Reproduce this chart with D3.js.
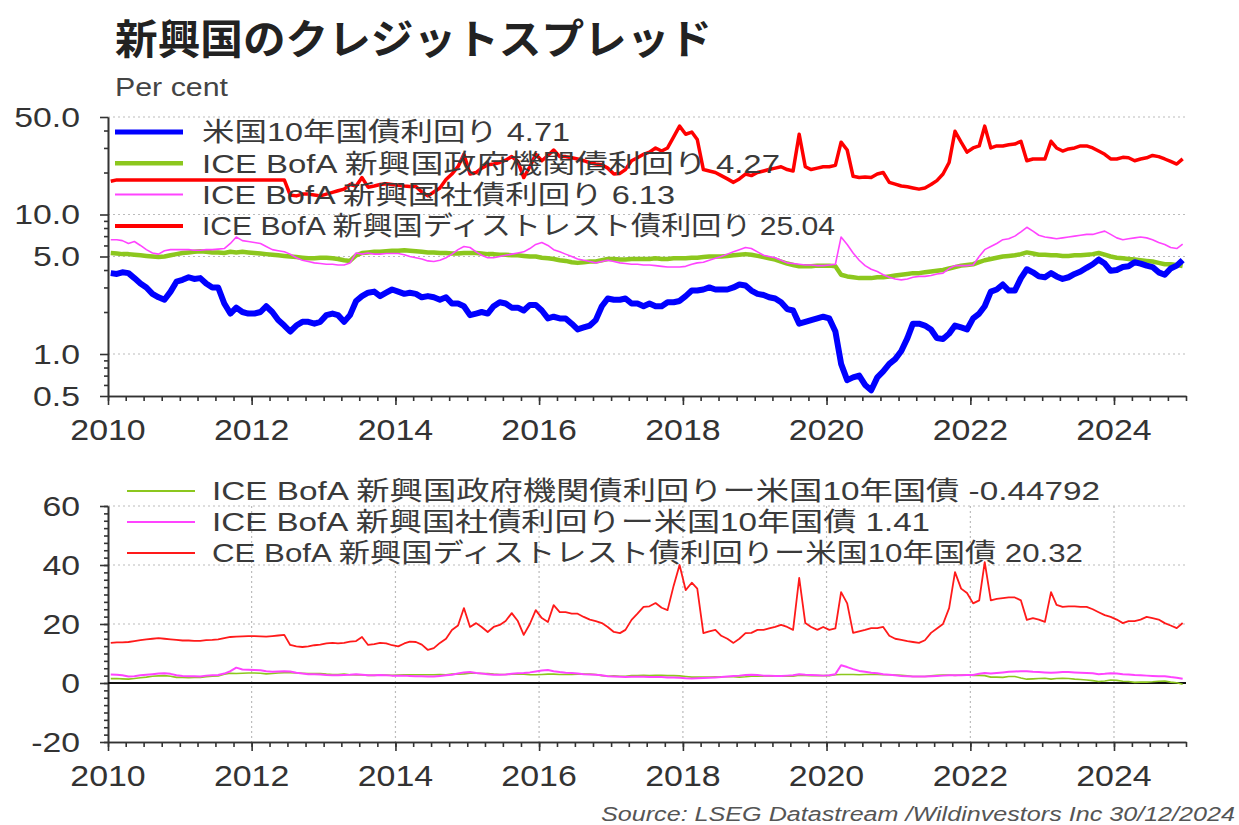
<!DOCTYPE html>
<html>
<head>
<meta charset="utf-8">
<script src="https://cdn.jsdelivr.net/npm/d3@7"></script>
<style>
  body { margin: 0; background: #fff; }
  svg { display: block; }
</style>
</head>
<body>
<svg id="chart" width="1239" height="825"></svg>
<script>
// Monthly observations, January 2010 – December 2024 (12 values per row = one year)

// US 10-year Treasury yield (%)
const ust10y = [
  3.80, 3.75, 3.85, 3.80, 3.50, 3.20, 3.00, 2.70, 2.55, 2.45, 2.80, 3.30,
  3.40, 3.55, 3.45, 3.50, 3.20, 3.00, 3.00, 2.30, 1.95, 2.15, 2.00, 1.95,
  1.95, 2.00, 2.20, 2.00, 1.75, 1.60, 1.45, 1.60, 1.70, 1.70, 1.65, 1.70,
  1.90, 1.95, 1.90, 1.70, 1.90, 2.40, 2.60, 2.75, 2.80, 2.60, 2.75, 2.90,
  2.80, 2.70, 2.75, 2.70, 2.55, 2.60, 2.55, 2.45, 2.55, 2.30, 2.30, 2.20,
  1.90, 1.95, 2.00, 1.95, 2.20, 2.35, 2.30, 2.15, 2.15, 2.05, 2.25, 2.25,
  2.05, 1.80, 1.85, 1.80, 1.80, 1.65, 1.50, 1.55, 1.60, 1.75, 2.20, 2.50,
  2.45, 2.45, 2.50, 2.30, 2.30, 2.20, 2.30, 2.20, 2.20, 2.35, 2.35, 2.40,
  2.60, 2.85, 2.85, 2.90, 3.00, 2.90, 2.90, 2.90, 3.00, 3.15, 3.10, 2.85,
  2.70, 2.65, 2.55, 2.50, 2.35, 2.10, 2.05, 1.65, 1.70, 1.75, 1.80, 1.85,
  1.80, 1.45, 0.85, 0.65, 0.68, 0.70, 0.60, 0.55, 0.68, 0.75, 0.85, 0.92,
  1.05, 1.30, 1.65, 1.65, 1.60, 1.50, 1.30, 1.28, 1.40, 1.60, 1.55, 1.50,
  1.80, 1.95, 2.20, 2.80, 2.90, 3.15, 2.85, 2.85, 3.50, 4.05, 3.85, 3.60,
  3.55, 3.80, 3.60, 3.45, 3.55, 3.75, 3.90, 4.15, 4.40, 4.75, 4.45, 3.95,
  4.00, 4.20, 4.25, 4.55, 4.45, 4.30, 4.20, 3.85, 3.70, 4.10, 4.30, 4.71
];

// ICE BofA EM government-agency bond yield (%)
const emGovYield = [
  5.30, 5.25, 5.20, 5.20, 5.15, 5.10, 5.05, 5.00, 4.95, 5.00, 5.10, 5.20,
  5.30, 5.35, 5.40, 5.45, 5.40, 5.35, 5.35, 5.30, 5.40, 5.35, 5.40, 5.35,
  5.30, 5.25, 5.20, 5.15, 5.10, 5.05, 5.00, 4.95, 4.90, 4.85, 4.85, 4.90,
  4.90, 4.85, 4.80, 4.70, 4.65, 5.10, 5.30, 5.35, 5.40, 5.40, 5.45, 5.50,
  5.50, 5.55, 5.50, 5.45, 5.40, 5.35, 5.35, 5.30, 5.30, 5.25, 5.25, 5.30,
  5.30, 5.30, 5.25, 5.20, 5.20, 5.15, 5.15, 5.10, 5.10, 5.05, 5.00, 5.00,
  4.90, 4.85, 4.80, 4.70, 4.65, 4.55, 4.50, 4.55, 4.60, 4.60, 4.70, 4.80,
  4.80, 4.75, 4.75, 4.80, 4.80, 4.80, 4.80, 4.85, 4.80, 4.80, 4.85, 4.85,
  4.85, 4.90, 4.90, 4.95, 5.00, 5.00, 5.00, 5.05, 5.10, 5.15, 5.20, 5.15,
  5.05, 4.95, 4.85, 4.75, 4.60, 4.45, 4.35, 4.25, 4.25, 4.25, 4.30, 4.30,
  4.30, 4.25, 3.70, 3.60, 3.55, 3.50, 3.50, 3.50, 3.55, 3.55, 3.60, 3.65,
  3.70, 3.75, 3.80, 3.80, 3.85, 3.90, 3.95, 4.00, 4.10, 4.20, 4.30, 4.35,
  4.40, 4.55, 4.70, 4.80, 4.90, 5.00, 5.05, 5.10, 5.20, 5.35, 5.25, 5.15,
  5.15, 5.10, 5.10, 5.05, 5.05, 5.10, 5.10, 5.15, 5.20, 5.30, 5.15, 5.00,
  4.90, 4.85, 4.80, 4.75, 4.70, 4.65, 4.60, 4.50, 4.40, 4.40, 4.35, 4.27
];

// ICE BofA EM corporate bond yield (%)
const emCorpYield = [
  6.60, 6.60, 6.50, 6.20, 6.40, 6.00, 5.60, 5.30, 5.20, 5.50, 5.60, 5.60,
  5.60, 5.60, 5.55, 5.55, 5.60, 5.60, 5.65, 5.70, 6.20, 6.90, 6.50, 6.40,
  6.30, 6.20, 5.90, 5.60, 5.50, 5.40, 5.20, 4.90, 4.70, 4.60, 4.50, 4.45,
  4.40, 4.40, 4.35, 4.35, 4.50, 5.30, 5.20, 5.30, 5.20, 5.20, 5.25, 5.25,
  5.25, 5.15, 5.00, 4.90, 4.80, 4.65, 4.60, 4.70, 4.90, 5.20, 5.60, 5.90,
  5.80, 5.40, 5.10, 4.90, 4.90, 5.00, 5.10, 5.20, 5.30, 5.40, 5.70, 6.10,
  6.30, 6.00, 5.60, 5.40, 5.20, 5.00, 4.80, 4.70, 4.60, 4.50, 4.60, 4.70,
  4.60, 4.50, 4.45, 4.40, 4.40, 4.35, 4.35, 4.30, 4.25, 4.20, 4.20, 4.20,
  4.25, 4.40, 4.50, 4.55, 4.70, 4.85, 5.00, 5.20, 5.40, 5.60, 5.80, 5.70,
  5.40, 5.10, 5.00, 4.90, 4.70, 4.50, 4.45, 4.40, 4.35, 4.35, 4.30, 4.30,
  4.35, 4.40, 6.90, 6.10, 5.30, 4.70, 4.30, 4.05, 3.90, 3.70, 3.55, 3.45,
  3.40, 3.45, 3.55, 3.60, 3.60, 3.65, 3.75, 3.80, 4.10, 4.30, 4.30, 4.30,
  4.35, 5.00, 5.60, 5.90, 6.20, 6.60, 6.70, 7.00, 7.50, 8.10, 7.60, 7.10,
  6.90, 6.80, 6.70, 6.80, 6.90, 7.00, 7.10, 7.20, 7.20, 7.40, 7.60, 7.20,
  6.80, 6.60, 6.70, 6.80, 6.90, 6.80, 6.60, 6.30, 6.10, 5.80, 5.70, 6.13
];

// ICE BofA EM distressed bond yield (%)
const emDistressedYield = [
  17.3, 17.7, 17.7, 17.7, 17.7, 17.7, 17.7, 17.7, 17.7, 17.7, 17.7, 17.7,
  17.7, 17.7, 17.7, 17.7, 17.7, 17.7, 17.7, 17.7, 17.7, 17.7, 17.7, 17.7,
  17.7, 17.7, 17.7, 17.7, 17.7, 17.7, 13.8, 13.6, 14.0, 14.0, 13.8, 13.6,
  14.0, 14.4, 14.8, 15.2, 16.4, 16.0, 18.4, 15.7, 16.0, 16.4, 16.6, 16.4,
  16.2, 16.0, 15.9, 15.9, 14.5, 13.6, 14.5, 15.5, 17.8, 19.5, 22.0, 27.0,
  19.5, 20.0, 21.5, 22.7, 23.0, 23.6, 24.5, 26.0, 24.0, 18.4, 22.0, 27.0,
  24.3, 26.5, 29.0, 26.0, 26.0, 25.5, 25.0, 24.3, 23.5, 23.0, 22.7, 21.5,
  19.5, 19.7, 21.0, 24.3, 25.5, 27.0, 28.0, 30.0, 28.5, 30.0, 36.0, 43.0,
  37.6, 39.0, 34.5, 21.0, 20.5, 20.0, 19.0, 18.0, 17.0, 18.0, 19.5, 19.0,
  20.0, 20.5, 21.0, 21.5, 22.0, 21.0, 20.5, 37.6, 22.0, 21.0, 21.5, 22.0,
  22.0, 22.5, 33.0, 29.0, 18.8, 18.4, 18.6, 18.4, 19.5, 20.0, 17.0, 16.5,
  16.0, 15.8, 15.5, 15.2, 15.5, 16.4, 17.5, 19.5, 23.6, 39.5, 33.0, 28.0,
  30.0, 31.0, 43.0, 30.0, 31.0, 31.0, 31.6, 32.0, 33.5, 24.3, 25.0, 25.0,
  25.0, 33.5, 30.0, 28.5, 29.5, 30.0, 31.0, 31.0, 30.0, 28.5, 27.0, 25.0,
  25.0, 25.7, 25.5, 24.3, 25.0, 25.5, 26.5, 26.0, 25.0, 24.0, 23.0, 25.04
];

// Spreads over the US 10-year Treasury (percentage points)
const govSpread = [
  1.5, 1.5, 1.4, 1.3, 1.5, 1.8, 2.0, 2.3, 2.4, 2.5, 2.3, 1.9,
  1.9, 1.8, 1.9, 1.9, 2.1, 2.3, 2.4, 3.0, 3.3, 3.2, 3.3, 3.4,
  3.4, 3.3, 3.1, 3.2, 3.4, 3.5, 3.5, 3.4, 3.3, 3.2, 3.2, 3.2,
  3.0, 2.9, 2.9, 3.0, 2.8, 2.7, 2.7, 2.6, 2.6, 2.7, 2.7, 2.6,
  2.7, 2.8, 2.8, 2.8, 2.8, 2.8, 2.8, 2.9, 2.8, 3.0, 3.0, 3.1,
  3.3, 3.3, 3.2, 3.2, 3.0, 2.9, 2.9, 3.0, 3.0, 3.0, 2.8, 2.8,
  2.9, 3.0, 3.0, 2.9, 2.9, 2.9, 3.0, 3.0, 3.0, 2.9, 2.5, 2.3,
  2.4, 2.3, 2.3, 2.5, 2.5, 2.6, 2.5, 2.6, 2.6, 2.5, 2.5, 2.4,
  2.2, 2.0, 2.0, 2.0, 2.0, 2.1, 2.1, 2.1, 2.1, 2.0, 2.1, 2.3,
  2.4, 2.3, 2.3, 2.3, 2.3, 2.4, 2.3, 2.6, 2.6, 2.5, 2.5, 2.5,
  2.5, 2.8, 2.9, 2.9, 2.9, 2.8, 2.9, 2.9, 2.9, 2.8, 2.8, 2.7,
  2.6, 2.4, 2.2, 2.2, 2.2, 2.4, 2.6, 2.7, 2.7, 2.6, 2.7, 2.8,
  2.6, 2.6, 2.5, 2.0, 2.0, 1.9, 2.2, 2.2, 1.7, 1.3, 1.4, 1.5,
  1.6, 1.3, 1.5, 1.6, 1.5, 1.3, 1.2, 1.0, 0.8, 0.5, 0.7, 1.0,
  0.9, 0.6, 0.5, 0.2, 0.3, 0.3, 0.4, 0.6, 0.7, 0.3, 0.1, -0.44792
];

const corpSpread = [
  2.9, 2.8, 2.6, 2.2, 2.3, 2.6, 2.8, 3.0, 3.2, 3.3, 3.1, 2.6,
  2.4, 2.3, 2.3, 2.2, 2.5, 2.6, 2.7, 3.2, 4.0, 5.2, 4.6, 4.5,
  4.4, 4.3, 4.0, 3.8, 3.9, 4.0, 3.9, 3.5, 3.2, 3.0, 3.0, 2.9,
  2.7, 2.6, 2.6, 2.7, 2.8, 3.0, 2.8, 2.6, 2.6, 2.7, 2.6, 2.5,
  2.5, 2.5, 2.4, 2.3, 2.3, 2.2, 2.2, 2.4, 2.6, 2.8, 3.2, 3.6,
  3.7, 3.4, 3.2, 3.0, 2.8, 2.8, 2.9, 3.1, 3.3, 3.4, 3.6, 3.9,
  4.2, 4.4, 4.0, 3.7, 3.5, 3.4, 3.2, 3.0, 2.9, 2.8, 2.6, 2.3,
  2.2, 2.1, 2.0, 2.1, 2.1, 2.1, 2.0, 2.0, 2.0, 1.9, 1.9, 1.8,
  1.6, 1.5, 1.6, 1.7, 1.8, 1.9, 2.0, 2.2, 2.4, 2.5, 2.7, 2.8,
  2.7, 2.5, 2.5, 2.4, 2.4, 2.5, 2.6, 3.0, 2.8, 2.7, 2.6, 2.5,
  2.6, 3.0, 6.0, 5.4, 4.7, 4.1, 3.8, 3.5, 3.3, 3.0, 2.8, 2.6,
  2.4, 2.3, 2.2, 2.2, 2.2, 2.3, 2.4, 2.5, 2.6, 2.6, 2.6, 2.7,
  2.7, 3.1, 3.4, 3.2, 3.4, 3.6, 3.8, 3.9, 4.0, 4.0, 3.8, 3.7,
  3.6, 3.5, 3.6, 3.7, 3.7, 3.6, 3.5, 3.4, 3.3, 3.0, 3.1, 3.3,
  3.2, 3.0, 2.9, 2.7, 2.6, 2.5, 2.4, 2.3, 2.3, 2.0, 1.8, 1.41
];

const distressedSpread = [
  13.6, 13.8, 13.8, 13.9, 14.2, 14.5, 14.8, 15.0, 15.2, 15.0, 14.8, 14.6,
  14.4, 14.4, 14.3, 14.3, 14.5, 14.6, 14.8, 15.2, 15.6, 15.7, 15.8, 15.9,
  15.9, 15.8, 15.7, 15.9, 16.1, 16.3, 12.9, 12.4, 12.2, 12.4, 12.8, 13.0,
  13.4, 13.6, 13.4, 13.6, 14.0, 14.2, 15.6, 12.9, 13.2, 13.6, 13.4, 12.8,
  12.4, 13.4, 14.0, 13.9, 13.0, 11.2, 11.8, 13.6, 15.0, 18.0, 19.5, 25.4,
  19.0, 20.3, 19.0, 17.3, 19.0, 19.7, 21.0, 23.7, 21.0, 16.3, 20.0, 24.7,
  22.0, 20.7, 26.4, 24.0, 24.0, 23.5, 23.5, 22.4, 21.5, 21.0, 20.3, 19.0,
  17.3, 16.9, 18.0, 21.4, 23.5, 25.8, 26.0, 27.1, 25.5, 24.7, 33.0, 40.0,
  31.5, 34.0, 32.0, 16.9, 17.5, 18.0, 16.0, 15.0, 13.6, 15.0, 16.9, 17.0,
  18.0, 18.0, 18.5, 19.0, 19.7, 19.0, 18.0, 35.6, 20.3, 19.0, 18.0, 19.0,
  18.0, 18.5, 30.8, 27.0, 17.0, 17.5, 18.0, 18.6, 18.6, 19.0, 16.0, 15.0,
  14.6, 14.2, 13.9, 13.6, 14.5, 17.0, 18.5, 20.0, 25.4, 37.6, 32.0, 30.5,
  27.0, 28.0, 41.0, 28.0, 28.5, 28.8, 29.0, 29.0, 28.0, 21.4, 22.0, 21.5,
  20.7, 30.8, 26.5, 25.8, 26.0, 26.0, 25.8, 25.8, 25.0, 24.0, 23.0, 22.4,
  21.5, 20.3, 21.0, 21.0, 21.5, 22.4, 22.0, 21.5, 20.3, 19.5, 18.6, 20.32
];

// Axis tick values
const yearTicks = [2010, 2012, 2014, 2016, 2018, 2020, 2022, 2024];
const topYTicks = [0.5, 1, 5, 10, 50];
const topYLabels = ["0.5", "1.0", "5.0", "10.0", "50.0"];
const topYMinor = [0.6, 0.7, 0.8, 0.9, 2, 3, 4, 6, 7, 8, 9, 20, 30, 40];
const topYGrid = [1, 5, 10, 50];
const botYTicks = [-20, 0, 20, 40, 60];
const botYGrid = [20, 40, 60];

// Legend texts
const topLegend = [
  "米国10年国債利回り 4.71",
  "ICE BofA 新興国政府機関債利回り 4.27",
  "ICE BofA 新興国社債利回り 6.13",
  "ICE BofA 新興国ディストレスト債利回り 25.04"
];
const botLegend = [
  "ICE BofA 新興国政府機関債利回りー米国10年国債 -0.44792",
  "ICE BofA 新興国社債利回りー米国10年国債 1.41",
  "CE BofA 新興国ディストレスト債利回りー米国10年国債 20.32"
];

// ---------------------------------------------------------------------------

const svg = d3.select("#chart");
const LATIN = "'Liberation Sans', Arial, 'Noto Sans CJK JP', sans-serif";
const CJK = "'Noto Sans CJK JP', 'Liberation Sans', sans-serif";
const TXT = "#333";

const months = d3.timeMonth.range(new Date(2010, 0, 1), new Date(2025, 0, 1))
  .map(d => d3.timeDay.offset(d, 14));

const x = d3.scaleTime()
  .domain([new Date(2010, 0, 1), new Date(2025, 0, 1)])
  .range([108, 1186]);
const yTop = d3.scaleLog().domain([0.5, 50]).range([396, 117]);
const yBot = d3.scaleLinear().domain([-20, 60]).range([742, 506]);
const [x0, x1] = x.range();

// Text helper: draws a label and stretches it horizontally to a given width
// (or by a factor of its natural width), aligned start / middle / end.
function label(g, str, px, py, o) {
  const t = g.append("text")
    .attr("y", py)
    .attr("font-family", o.family || LATIN)
    .attr("font-size", o.size)
    .attr("font-weight", o.weight || "normal")
    .attr("font-style", o.style || "normal")
    .attr("fill", o.fill || TXT)
    .attr("dy", o.dy || 0)
    .text(str);
  const nat = t.node().getComputedTextLength();
  const w = o.width != null ? o.width : nat * (o.factor || 1);
  t.attr("textLength", w).attr("lengthAdjust", "spacingAndGlyphs");
  const anchor = o.anchor || "start";
  const left = anchor === "end" ? px - w : anchor === "middle" ? px - w / 2 : px;
  t.attr("x", left);
  return t;
}

// ---- Title and unit ----
label(svg, "新興国のクレジットスプレッド", 115, 54,
  { size: 41, weight: "bold", family: CJK, fill: "#222", width: 597 });
label(svg, "Per cent", 115, 96, { size: 26, fill: "#444", width: 113 });

// ---- Gridlines ----
const grid = svg.append("g")
  .attr("stroke", "#bbb").attr("stroke-width", 1.2)
  .attr("stroke-dasharray", "2,3").attr("fill", "none");
grid.selectAll(".gt").data(topYGrid).join("line")
  .attr("x1", x0).attr("x2", x1)
  .attr("y1", d => yTop(d)).attr("y2", d => yTop(d));
grid.selectAll(".gb").data(botYGrid).join("line")
  .attr("x1", x0).attr("x2", x1)
  .attr("y1", d => yBot(d)).attr("y2", d => yBot(d));
grid.selectAll(".gv").data(yearTicks.slice(1)).join("line")
  .attr("x1", d => x(new Date(d, 0, 1))).attr("x2", d => x(new Date(d, 0, 1)))
  .attr("y1", yBot(60)).attr("y2", yBot(-20));

// ---- Axes ----
function styleAxis(g) {
  g.select(".domain").attr("stroke", "#333").attr("stroke-width", 1.6);
  g.selectAll(".tick line").attr("stroke", "#333").attr("stroke-width", 1.6);
  g.selectAll(".tick text").remove();
}
const quarters = d3.timeMonth.every(3).range(new Date(2010, 0, 1), new Date(2025, 0, 2));
const yearDates = yearTicks.map(y => new Date(y, 0, 1));

function xAxis(yPos) {
  svg.append("g").attr("transform", `translate(0,${yPos})`)
    .call(d3.axisBottom(x).tickValues(quarters).tickSize(5).tickSizeOuter(0))
    .call(styleAxis);
  svg.append("g").attr("transform", `translate(0,${yPos})`)
    .call(d3.axisBottom(x).tickValues(yearDates).tickSize(9).tickSizeOuter(0))
    .call(styleAxis);
}
xAxis(yTop(0.5));
xAxis(yBot(-20));

svg.append("g").attr("transform", `translate(${x0},0)`)
  .call(d3.axisLeft(yTop).tickValues(topYMinor).tickSize(4).tickSizeOuter(0))
  .call(styleAxis);
svg.append("g").attr("transform", `translate(${x0},0)`)
  .call(d3.axisLeft(yTop).tickValues(topYTicks).tickSize(8).tickSizeOuter(0))
  .call(styleAxis);

const botMinor = d3.range(-20, 60.01, 2.5);
svg.append("g").attr("transform", `translate(${x0},0)`)
  .call(d3.axisLeft(yBot).tickValues(botMinor).tickSize(4).tickSizeOuter(0))
  .call(styleAxis);
svg.append("g").attr("transform", `translate(${x0},0)`)
  .call(d3.axisLeft(yBot).tickValues(botYTicks).tickSize(8).tickSizeOuter(0))
  .call(styleAxis);

// Tick labels
const labels = svg.append("g");
topYTicks.forEach((v, i) =>
  label(labels, topYLabels[i], 80, yTop(v), { size: 27, anchor: "end", factor: 1.25, dy: "0.36em" }));
botYTicks.forEach(v =>
  label(labels, String(v), 80, yBot(v), { size: 27, anchor: "end", factor: 1.25, dy: "0.36em" }));
yearTicks.forEach(yr => {
  const px = x(new Date(yr, 0, 1));
  label(labels, String(yr), px, 440, { size: 30, anchor: "middle", factor: 1.13 });
  label(labels, String(yr), px, 786, { size: 30, anchor: "middle", factor: 1.13 });
});

// ---- Top panel: yields (log scale) ----
const lineTop = d3.line().x((d, i) => x(months[i])).y(d => yTop(d));
const lineBot = d3.line().x((d, i) => x(months[i])).y(d => yBot(d));

const topSeries = [
  { values: emGovYield, color: "#8cc71e", width: 4.5 },
  { values: emCorpYield, color: "#ff44ff", width: 1.6 },
  { values: emDistressedYield, color: "#ff0000", width: 3.5 },
  { values: ust10y, color: "#0000ff", width: 6 }
];
svg.append("g").attr("fill", "none").attr("stroke-linejoin", "round")
  .selectAll("path").data(topSeries).join("path")
  .attr("d", d => lineTop(d.values))
  .attr("stroke", d => d.color)
  .attr("stroke-width", d => d.width);

// ---- Bottom panel: spreads ----
svg.append("line")
  .attr("x1", x0).attr("x2", x1)
  .attr("y1", yBot(0)).attr("y2", yBot(0))
  .attr("stroke", "#111").attr("stroke-width", 2);

const botSeries = [
  { values: govSpread, color: "#8cc71e", width: 1.6 },
  { values: corpSpread, color: "#ff44ff", width: 2 },
  { values: distressedSpread, color: "#ff1a1a", width: 1.8 }
];
svg.append("g").attr("fill", "none").attr("stroke-linejoin", "round")
  .selectAll("path").data(botSeries).join("path")
  .attr("d", d => lineBot(d.values))
  .attr("stroke", d => d.color)
  .attr("stroke-width", d => d.width);

// ---- Legends ----
const topLegendStyle = [
  { color: "#0000ff", width: 5, textW: 368 },
  { color: "#8cc71e", width: 4.5, textW: 578 },
  { color: "#ff44ff", width: 2, textW: 473 },
  { color: "#ff0000", width: 4, textW: 633 }
];
const legTop = svg.append("g");
topLegend.forEach((txt, i) => {
  const cy = 132 + i * 31.3;
  legTop.append("line").attr("x1", 115).attr("x2", 183).attr("y1", cy).attr("y2", cy)
    .attr("stroke", topLegendStyle[i].color).attr("stroke-width", topLegendStyle[i].width);
  label(legTop, txt, 202, cy, { size: 26, width: topLegendStyle[i].textW, dy: "0.36em", fill: "#3a3a3a" });
});

const botLegendStyle = [
  { color: "#8cc71e", textW: 888 },
  { color: "#ff44ff", textW: 718 },
  { color: "#ff1a1a", textW: 871 }
];
const legBot = svg.append("g");
botLegend.forEach((txt, i) => {
  const cy = 491 + i * 31;
  legBot.append("line").attr("x1", 127).attr("x2", 195).attr("y1", cy).attr("y2", cy)
    .attr("stroke", botLegendStyle[i].color).attr("stroke-width", 2);
  label(legBot, txt, 212, cy, { size: 26, width: botLegendStyle[i].textW, dy: "0.36em", fill: "#3a3a3a" });
});

// ---- Source ----
label(svg, "Source: LSEG Datastream /Wildinvestors Inc 30/12/2024", 1235, 821,
  { size: 20, style: "italic", fill: "#555", anchor: "end", width: 634 });
</script>
</body>
</html>
